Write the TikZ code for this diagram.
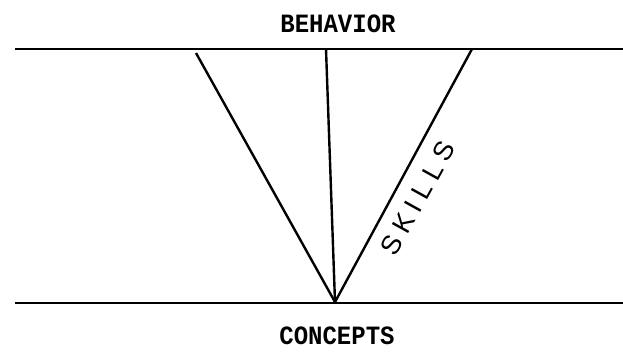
\documentclass[tikz,border=0pt]{standalone}
\usepackage{fontspec}
\newfontfamily\typew{Liberation Mono}
\newfontfamily\handw[LetterSpace=25]{Liberation Sans}
\begin{document}
\begin{tikzpicture}[x=1pt,y=-1pt,
  rule/.style={line width=2.2pt},
  leg/.style={line width=2.4pt},
  title/.style={font=\typew\bfseries\fontsize{24}{24}\selectfont, inner sep=0pt, yscale=1.1},
  hand/.style={font=\handw\fontsize{27}{27}\selectfont, inner sep=0pt, rotate=61}]
\useasboundingbox (0,0) rectangle (623,351);
\coordinate (tl) at (15,49);
\coordinate (tr) at (623,49);
\coordinate (bl) at (15,303);
\coordinate (br) at (623,303);
\coordinate (v) at (335,302);
\coordinate (a) at (196,53);
\coordinate (b) at (326,49);
\coordinate (c) at (472,49);
\draw[rule] (tl) -- (tr);
\draw[rule] (bl) -- (br);
\draw[leg] (v) -- (a);
\draw[leg] (v) -- (b);
\draw[leg] (v) -- (c);
\node[title] (beh) at (338,24) {BEHAVIOR};
\node[title] (con) at (337,336) {CONCEPTS};
\node[hand] (sk) at (418,198) {SKILLS};
\end{tikzpicture}
\end{document}
